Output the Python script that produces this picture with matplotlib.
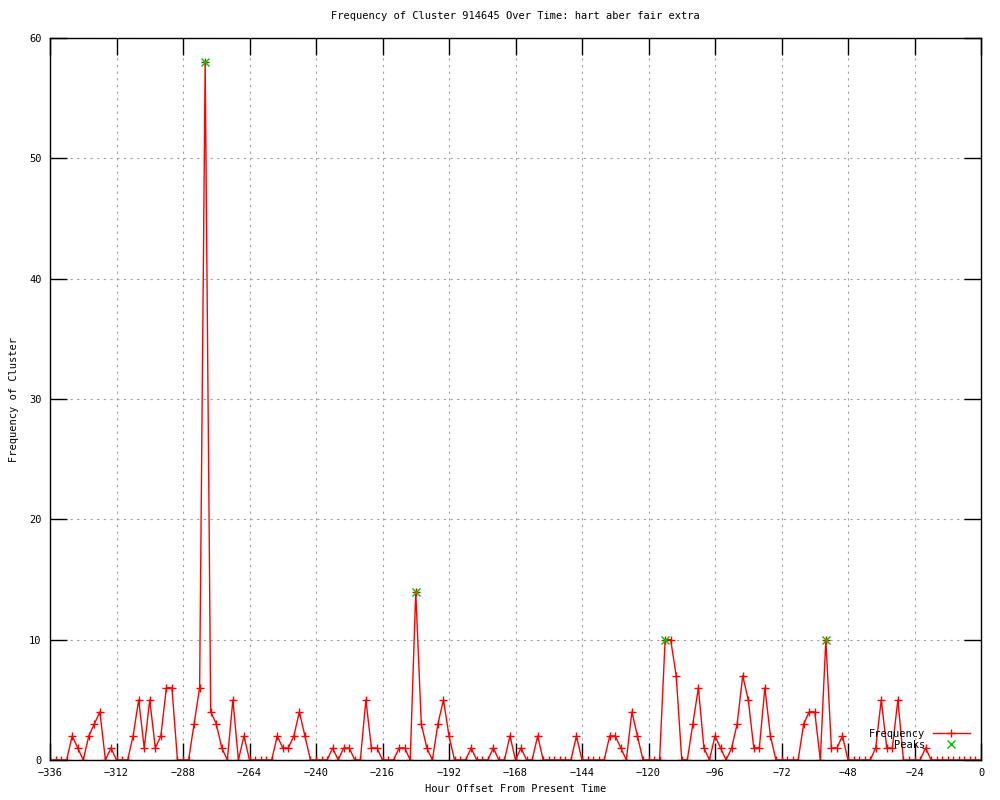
import matplotlib
matplotlib.use("Agg")
import matplotlib.pyplot as plt

# hour offsets, one every 2 hours
hours = list(range(-336, 1, 2))

# frequency per offset
freq = [
    0, 0, 0, 0, 2, 1, 0, 2, 3, 4,          # -336 .. -318
    0, 1, 0, 0, 0, 2, 5, 1, 5, 1,          # -316 .. -298
    2, 6, 6, 0, 0, 0, 3, 6, 58, 4,         # -296 .. -278
    3, 1, 0, 5, 0, 2, 0, 0, 0, 0,          # -276 .. -258
    0, 2, 1, 1, 2, 4, 2, 0, 0, 0,          # -256 .. -238
    0, 1, 0, 1, 1, 0, 0, 5, 1, 1,          # -236 .. -218
    0, 0, 0, 1, 1, 0, 14, 3, 1, 0,         # -216 .. -198
    3, 5, 2, 0, 0, 0, 1, 0, 0, 0,          # -196 .. -178
    1, 0, 0, 2, 0, 1, 0, 0, 2, 0,          # -176 .. -158
    0, 0, 0, 0, 0, 2, 0, 0, 0, 0,          # -156 .. -138
    0, 2, 2, 1, 0, 4, 2, 0, 0, 0,          # -136 .. -118
    0, 10, 10, 7, 0, 0, 3, 6, 1, 0,        # -116 .. -98
    2, 1, 0, 1, 3, 7, 5, 1, 1, 6,          # -96 .. -78
    2, 0, 0, 0, 0, 0, 3, 4, 4, 0,          # -76 .. -58
    10, 1, 1, 2, 0, 0, 0, 0, 0, 1,         # -56 .. -38
    5, 1, 1, 5, 0, 0, 0, 0, 1, 0,          # -36 .. -18
    0, 0, 0, 0, 0, 0, 0, 0, 0,             # -16 .. 0
]

peak_hours = [-280, -204, -114, -56]
peak_vals = [58, 14, 10, 10]

xticks = list(range(-336, 1, 24))
yticks = list(range(0, 61, 10))

plt.rcParams['font.family'] = ['DejaVu Sans Mono']
plt.rcParams['font.size'] = 7.5

fig = plt.figure(figsize=(10, 8), dpi=100)
ax = fig.add_axes([0.05, 0.05, 0.931, 0.9025])

ax.plot(hours, freq, color='red', lw=1, marker='+', markersize=6,
        markeredgewidth=1, label='Frequency')
ax.plot(peak_hours, peak_vals, ls='none', marker='x', color='#00c000',
        markersize=6, markeredgewidth=1, label='Peaks')

ax.set_xlim(-336, 0)
ax.set_ylim(0, 60)
ax.set_xticks(xticks)
ax.set_yticks(yticks)
ax.tick_params(direction='in', length=12, width=1, top=True, right=True,
               labelsize=7.5, pad=6)
ax.grid(True, color='#a0a0a0', ls=(0, (2, 4)), lw=0.8)
for s in ax.spines.values():
    s.set_linewidth(1)
    s.set_zorder(5)

ax.set_title("Frequency of Cluster 914645 Over Time: hart aber fair extra",
             fontsize=7.5, pad=14)
ax.set_xlabel("Hour Offset From Present Time", fontsize=7.5, labelpad=4)
ax.set_ylabel("Frequency of Cluster", fontsize=7.5, labelpad=7)

ax.legend(loc='lower right', frameon=False, markerfirst=False,
          fontsize=7.5, handlelength=3.5, borderaxespad=0.6,
          labelspacing=0.1, bbox_to_anchor=(0.999, 0.0))

fig.savefig("out.png", dpi=100)
